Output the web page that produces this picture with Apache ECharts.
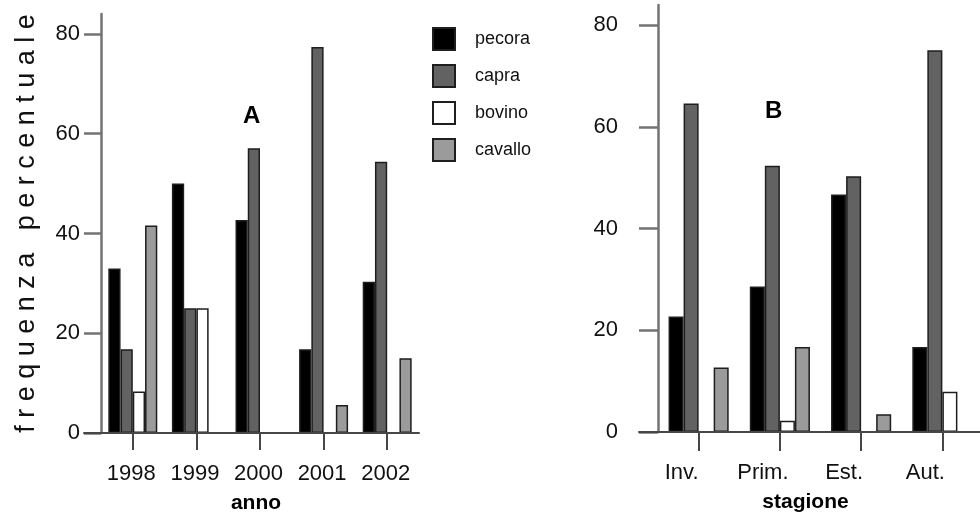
<!DOCTYPE html>
<html>
<head>
<meta charset="utf-8">
<script src="https://cdn.jsdelivr.net/npm/echarts@6/dist/echarts.min.js"></script>
<style>html,body{margin:0;padding:0;background:#fff;}#c{width:980px;height:513px;}</style>
</head>
<body>
<div id="c"></div>
<script>
// Panel A (anno)
var anni = ['1998', '1999', '2000', '2001', '2002'];
var pecoraA = [33.0, 50.0, 42.7, 16.8, 30.3];
var capraA = [16.8, 25.0, 57.1, 77.4, 54.4];
var bovinoA = [8.3, 25.0, 0, 0, 0];
var cavalloA = [41.6, 0, 0, 5.6, 15.0];
// Panel B (stagione)
var stagioni = ['Inv.', 'Prim.', 'Est.', 'Aut.'];
var pecoraB = [22.7, 28.6, 46.7, 16.7];
var capraB = [64.6, 52.4, 50.3, 75.1];
var bovinoB = [0, 2.2, 0, 7.9];
var cavalloB = [12.7, 16.7, 3.5, 0];
var specie = ['pecora', 'capra', 'bovino', 'cavallo'];
var yTicks = [0, 20, 40, 60, 80];

var FONT = 'Liberation Sans, Arial, sans-serif';
var fills = { pecora: '#000000', capra: '#626262', bovino: '#ffffff', cavallo: '#9b9b9b' };
var yAxisColor = '#737373';
var xAxisColor = '#474747';

var chart = echarts.init(document.getElementById('c'), null, { renderer: 'canvas' });

function mkSeries(name, data, idx, gap) {
  return {
    type: 'bar', name: name, data: data,
    xAxisIndex: idx, yAxisIndex: idx,
    barGap: '0%', barCategoryGap: gap,
    itemStyle: { color: fills[name], borderColor: '#1e1e1e', borderWidth: 1.5 },
    emphasis: { disabled: true },
    animation: false
  };
}

var series = [
  mkSeries('pecora', pecoraA, 0, '23%'),
  mkSeries('capra', capraA, 0, '23%'),
  mkSeries('bovino', bovinoA, 0, '23%'),
  mkSeries('cavallo', cavalloA, 0, '23%'),
  mkSeries('pecora', pecoraB, 1, '26%'),
  mkSeries('capra', capraB, 1, '26%'),
  mkSeries('bovino', bovinoB, 1, '26%'),
  mkSeries('cavallo', cavalloB, 1, '26%')
];

var option = {
  backgroundColor: '#ffffff',
  animation: false,
  textStyle: { fontFamily: FONT },
  title: [
    { text: 'A', left: 243, top: 104, padding: 0, textStyle: { fontSize: 24, fontWeight: 'bold', color: '#000', fontFamily: FONT } },
    { text: 'B', left: 765, top: 99, padding: 0, textStyle: { fontSize: 24, fontWeight: 'bold', color: '#000', fontFamily: FONT } }
  ],
  legend: {
    data: specie, orient: 'vertical', left: 432, top: 27, padding: 0,
    itemWidth: 22, itemHeight: 22, itemGap: 13, icon: 'rect',
    selectedMode: false,
    textStyle: { fontSize: 18, color: '#111', fontFamily: FONT, padding: [5, 0, 0, 15] }
  },
  grid: [
    { left: 101, top: 14, width: 318, height: 419, outerBoundsMode: 'none', containLabel: false },
    { left: 658, top: 5, width: 325, height: 427, outerBoundsMode: 'none', containLabel: false },
    { left: 84, top: 14, width: 335, height: 419, outerBoundsMode: 'none', containLabel: false },
    { left: 639, top: 5, width: 345, height: 427, outerBoundsMode: 'none', containLabel: false }
  ],
  xAxis: [
    {
      type: 'category', gridIndex: 0, data: anni,
      axisLine: { show: false },
      axisTick: { show: true, alignWithLabel: true, length: 17, lineStyle: { color: xAxisColor, width: 2 } },
      axisLabel: { interval: 0, margin: 30, fontSize: 22, color: '#111', fontFamily: FONT, padding: [0, 3, 0, 0] },
      name: 'anno', nameLocation: 'middle', nameGap: 60,
      nameTextStyle: { fontSize: 21, fontWeight: 'bold', color: '#000', fontFamily: FONT, padding: [0, 8, 0, 0] }
    },
    {
      type: 'category', gridIndex: 1, data: stagioni,
      axisLine: { show: false },
      axisTick: { show: true, alignWithLabel: true, length: 19, lineStyle: { color: xAxisColor, width: 2 } },
      axisLabel: { interval: 0, margin: 30, fontSize: 22, color: '#111', fontFamily: FONT, padding: [0, 34, 0, 0] },
      name: 'stagione', nameLocation: 'middle', nameGap: 60,
      nameTextStyle: { fontSize: 21, fontWeight: 'bold', color: '#000', fontFamily: FONT, padding: [0, 30, 0, 0] }
    },
    {
      type: 'value', gridIndex: 2, min: 0, max: 1, z: 5,
      axisLine: { show: true, lineStyle: { color: xAxisColor, width: 2 } },
      axisTick: { show: false }, axisLabel: { show: false }, splitLine: { show: false }
    },
    {
      type: 'value', gridIndex: 3, min: 0, max: 1, z: 5,
      axisLine: { show: true, lineStyle: { color: xAxisColor, width: 2 } },
      axisTick: { show: false }, axisLabel: { show: false }, splitLine: { show: false }
    }
  ],
  yAxis: [
    {
      type: 'value', gridIndex: 0, min: 0, max: 84,
      axisLine: { show: true, lineStyle: { color: yAxisColor, width: 2.5 } },
      axisTick: { show: true, length: 17, customValues: yTicks, lineStyle: { color: yAxisColor, width: 2.5 } },
      axisLabel: { margin: 21, fontSize: 22, color: '#111', fontFamily: FONT, customValues: yTicks },
      splitLine: { show: false },
      name: 'f r e q u e n z a   p e r c e n t u a l e',
      nameLocation: 'middle', nameGap: 61, nameRotate: 90,
      nameTextStyle: { fontSize: 27, color: '#111', fontFamily: FONT }
    },
    {
      type: 'value', gridIndex: 1, min: 0, max: 84,
      axisLine: { show: true, lineStyle: { color: yAxisColor, width: 2.5 } },
      axisTick: { show: true, length: 19, customValues: yTicks, lineStyle: { color: yAxisColor, width: 2.5 } },
      axisLabel: { margin: 40, fontSize: 22, color: '#111', fontFamily: FONT, customValues: yTicks },
      splitLine: { show: false }
    },
    { type: 'value', gridIndex: 2, show: false, min: 0, max: 1 },
    { type: 'value', gridIndex: 3, show: false, min: 0, max: 1 }
  ],
  series: series
};
chart.setOption(option);
</script>
</body>
</html>
